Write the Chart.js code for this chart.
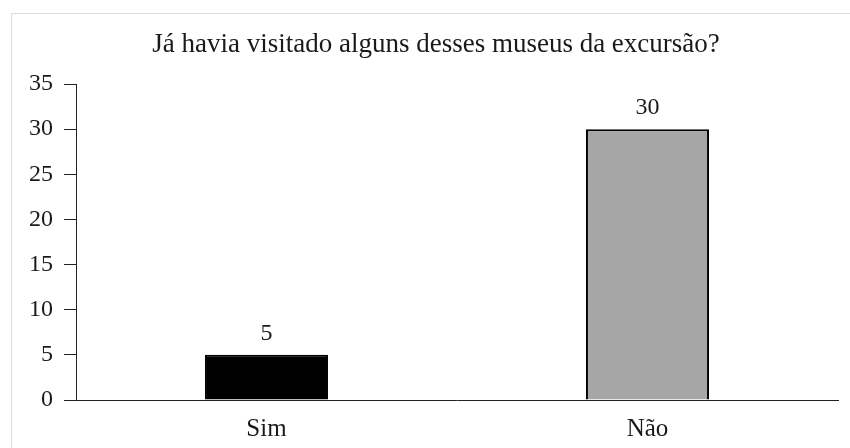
<!DOCTYPE html>
<html>
<head>
<meta charset="utf-8">
<script src="https://cdn.jsdelivr.net/npm/chart.js@4.4.1/dist/chart.umd.min.js"></script>
<style>
  html, body { margin: 0; padding: 0; background: #fff; }
  #wrap { position: relative; width: 850px; height: 448px; overflow: hidden; }
  #frame {
    position: absolute; left: 11px; top: 13px; width: 900px; height: 500px;
    border: 1px solid #dcdcdc;
  }
  canvas { position: absolute; left: 0; top: 0; }
</style>
</head>
<body>
<div id="wrap">
  <div id="frame"></div>
  <canvas id="museusChart" width="850" height="448"></canvas>
</div>
<script>
// Chart data
const categories = ["Sim", "Não"];
const respostas = [5, 30];
const barColors = ["#000000", "#a6a6a6"];
const yTicks = [0, 5, 10, 15, 20, 25, 30, 35];
const chartTitle = "Já havia visitado alguns desses museus da excursão?";

const serif = "'Liberation Serif', 'Times New Roman', serif";

// Title drawn over the whole frame, and the value above each bar
const textLayer = {
  id: "textLayer",
  afterDatasetsDraw(chart) {
    const ctx = chart.ctx;
    const meta = chart.getDatasetMeta(0);
    ctx.save();
    ctx.fillStyle = "#1a1a1a";
    ctx.textAlign = "center";

    ctx.font = "27px " + serif;
    ctx.textBaseline = "middle";
    ctx.fillText(chartTitle, 436, 45);

    ctx.font = "24px " + serif;
    ctx.textBaseline = "bottom";
    meta.data.forEach((bar, i) => {
      ctx.fillText(String(respostas[i]), bar.x, bar.y - 9);
    });
    ctx.restore();
  },
};

const ctx = document.getElementById("museusChart").getContext("2d");
const museusChart = new Chart(ctx, {
  type: "bar",
  data: {
    labels: categories,
    datasets: [
      {
        data: respostas,
        backgroundColor: barColors,
        borderColor: "#000000",
        borderWidth: 2,
        barPercentage: 0.323,
        categoryPercentage: 1,
      },
    ],
  },
  options: {
    responsive: false,
    animation: false,
    layout: { padding: { left: 0, right: 12, top: 84, bottom: 0 } },
    plugins: {
      legend: { display: false },
      tooltip: { enabled: false },
      title: { display: false },
    },
    scales: {
      x: {
        afterFit(scale) {
          scale.height = 48;
        },
        grid: { display: false, drawTicks: false },
        border: { display: true, color: "#222", width: 1 },
        ticks: {
          color: "#1a1a1a",
          padding: 14,
          font: { family: serif, size: 25 },
        },
      },
      y: {
        min: 0,
        max: 35,
        afterFit(scale) {
          scale.width = 76;
        },
        afterBuildTicks(scale) {
          scale.ticks = yTicks.map((v) => ({ value: v }));
        },
        grid: {
          drawOnChartArea: false,
          drawTicks: true,
          tickLength: 12,
          color: "#222",
        },
        border: { display: true, color: "#222", width: 1 },
        ticks: {
          color: "#1a1a1a",
          padding: 11,
          font: { family: serif, size: 24 },
        },
      },
    },
  },
  plugins: [textLayer],
});
</script>
</body>
</html>
